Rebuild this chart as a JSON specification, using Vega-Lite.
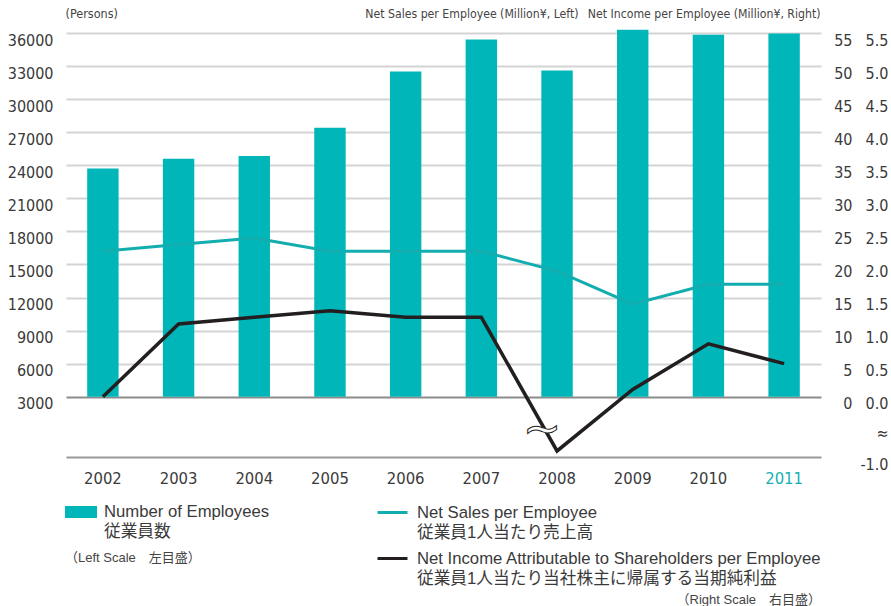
{
  "$schema": "https://vega.github.io/schema/vega-lite/v6.json",
  "width": 755,
  "height": 424,
  "autosize": {"type": "none"},
  "padding": {"left": 66, "top": 33, "right": 70, "bottom": 149},
  "background": "white",
  "config": {
    "view": {"stroke": null},
    "font": "Liberation Sans Narrow, DejaVu Sans Condensed, Roboto Condensed, Liberation Sans",
    "axis": {"labelFont": "Liberation Sans Narrow, DejaVu Sans Condensed, Roboto Condensed, Liberation Sans", "titleFont": "Liberation Sans Narrow, DejaVu Sans Condensed, Roboto Condensed, Liberation Sans"}
  },
  "data": {
    "values": [
      {"year": "2002", "employees": 23700, "sales": 22, "income": 0.0},
      {"year": "2003", "employees": 24600, "sales": 23, "income": 1.1},
      {"year": "2004", "employees": 24850, "sales": 24, "income": 1.2},
      {"year": "2005", "employees": 27400, "sales": 22, "income": 1.3},
      {"year": "2006", "employees": 32500, "sales": 22, "income": 1.2},
      {"year": "2007", "employees": 35400, "sales": 22, "income": 1.2},
      {"year": "2008", "employees": 32600, "sales": 19, "income": -0.9},
      {"year": "2009", "employees": 36300, "sales": 14, "income": 0.11},
      {"year": "2010", "employees": 35850, "sales": 17, "income": 0.8},
      {"year": "2011", "employees": 35950, "sales": 17, "income": 0.5}
    ]
  },
  "encoding": {
    "x": {
      "field": "year",
      "type": "ordinal",
      "scale": {"paddingInner": 0.585, "paddingOuter": 0.28},
      "axis": {
        "title": null,
        "labelAngle": 0,
        "labelFontSize": 16.5,
        "labelColor": {"condition": {"test": "datum.value == '2011'", "value": "#14b0b2"}, "value": "#3a3a3a"},
        "labelPadding": 13,
        "ticks": false,
        "domainColor": "#9a9a9a",
        "domainWidth": 2,
        "grid": false
      }
    }
  },
  "layer": [
    {
      "mark": {"type": "bar"},
      "encoding": {
        "y": {
          "field": "employees",
          "type": "quantitative",
          "scale": {"domain": [3000, 36000], "range": [363.7, 0], "nice": false, "zero": false},
          "axis": {
            "orient": "left",
            "values": [3000, 6000, 9000, 12000, 15000, 18000, 21000, 24000, 27000, 30000, 33000, 36000],
            "format": "d",
            "grid": true,
            "gridColor": {"condition": {"test": "datum.value == 3000", "value": "#8c8c8c"}, "value": "#d4d4d4"},
            "gridWidth": 2,
            "domain": false,
            "ticks": false,
            "tickSize": 0,
            "labelPadding": 13,
            "labelOffset": 7,
            "labelFontSize": 16,
            "labelColor": "#3a3a3a",
            "title": "(Persons)",
            "titleX": -1,
            "titleY": -20,
            "titleAngle": 0,
            "titleAlign": "left",
            "titleBaseline": "middle",
            "titleFontSize": 12.5,
            "titleFontWeight": "normal",
            "titleColor": "#444444"
          }
        },
        "y2": {"datum": 3000},
        "fill": {
          "datum": "Number of Employees",
          "scale": {"domain": ["Number of Employees"], "range": ["#00b6b8"]},
          "legend": {
            "orient": "none",
            "legendX": -1,
            "legendY": 463,
            "padding": 0,
            "direction": "vertical",
            "title": "（Left Scale　左目盛）",
            "titleOrient": "bottom",
            "titleAnchor": "start",
            "titlePadding": 11,
            "titleFont": "Liberation Sans, Noto Sans CJK JP",
            "titleFontSize": 13,
            "titleFontWeight": "normal",
            "titleColor": "#444444",
            "labelFont": "Liberation Sans, Noto Sans CJK JP",
            "labelFontSize": 16.7,
            "labelColor": "#3a3a3a",
            "labelLimit": 600,
            "labelOffset": 7,
            "labelExpr": "[datum.label, '従業員数']",
            "symbolType": "M-1,-0.375H1V0.375H-1Z",
            "symbolSize": 1024,
            "symbolStrokeWidth": 0,
            "encode": {"labels": {"update": {"lineHeight": {"value": 20}}}}
          }
        }
      }
    },
    {
      "mark": {"type": "line", "strokeWidth": 3},
      "encoding": {
        "y": {
          "field": "sales",
          "type": "quantitative",
          "scale": {"domain": [0, 55], "range": [363.7, 0], "nice": false, "zero": false},
          "axis": {
            "orient": "right",
            "values": [0, 5, 10, 15, 20, 25, 30, 35, 40, 45, 50, 55],
            "grid": false,
            "domain": false,
            "ticks": false,
            "tickSize": 0,
            "labelAlign": "right",
            "labelPadding": 31,
            "labelOffset": 7,
            "labelFontSize": 16,
            "labelColor": "#3a3a3a",
            "title": "Net Sales per Employee (Million¥, Left)",
            "titleX": -243,
            "titleY": -20,
            "titleAngle": 0,
            "titleAlign": "right",
            "titleBaseline": "middle",
            "titleFontSize": 12.2,
            "titleFontWeight": "normal",
            "titleColor": "#444444"
          }
        },
        "stroke": {
          "datum": "Net Sales per Employee",
          "scale": {"domain": ["Net Sales per Employee", "Net Income Attributable to Shareholders per Employee"], "range": ["#12adaf", "#231f20"]},
          "legend": {
            "orient": "none",
            "legendX": 310,
            "legendY": 463,
            "padding": 0,
            "direction": "vertical",
            "rowPadding": -4,
            "title": "（Right Scale　右目盛）",
            "titleOrient": "bottom",
            "titleAnchor": "end",
            "titlePadding": 7,
            "titleFont": "Liberation Sans, Noto Sans CJK JP",
            "titleFontSize": 13,
            "titleFontWeight": "normal",
            "titleColor": "#444444",
            "labelFont": "Liberation Sans, Noto Sans CJK JP",
            "labelFontSize": 16.7,
            "labelColor": "#3a3a3a",
            "labelLimit": 600,
            "labelOffset": 8,
            "labelExpr": "datum.label == 'Net Sales per Employee' ? [datum.label, '従業員1人当たり売上高'] : [datum.label, '従業員1人当たり当社株主に帰属する当期純利益']",
            "symbolType": "M-1,0H1",
            "symbolSize": 900,
            "symbolStrokeWidth": 3,
            "encode": {"labels": {"update": {"lineHeight": {"value": 20}}}}
          }
        }
      }
    },
    {
      "mark": {"type": "line", "strokeWidth": 3.5},
      "encoding": {
        "y": {
          "field": "income",
          "type": "quantitative",
          "scale": {"domain": [-1, 0, 5.5], "range": [424, 363.7, 0], "nice": false, "zero": false},
          "axis": {
            "orient": "right",
            "values": [-1, -0.5, 0, 0.5, 1, 1.5, 2, 2.5, 3, 3.5, 4, 4.5, 5, 5.5],
            "labelExpr": "datum.value == -0.5 ? '≈' : (datum.value == -1 ? '-1.0' : format(datum.value, '.1f'))",
            "grid": false,
            "domain": false,
            "ticks": false,
            "tickSize": 0,
            "labelAlign": "right",
            "labelPadding": 67,
            "labelOffset": 7,
            "labelFontSize": 16,
            "labelColor": "#3a3a3a",
            "title": "Net Income per Employee (Million¥, Right)",
            "titleX": -1,
            "titleY": -20,
            "titleAngle": 0,
            "titleAlign": "right",
            "titleBaseline": "middle",
            "titleFontSize": 12.2,
            "titleFontWeight": "normal",
            "titleColor": "#444444"
          }
        },
        "stroke": {
          "datum": "Net Income Attributable to Shareholders per Employee",
          "scale": {"domain": ["Net Sales per Employee", "Net Income Attributable to Shareholders per Employee"], "range": ["#12adaf", "#231f20"]}
        }
      }
    },
    {
      "transform": [{"filter": "datum.year == '2008'"}],
      "mark": {"type": "text", "text": "∼", "fontSize": 46, "dx": -15, "fill": "white", "stroke": "#231f20", "strokeWidth": 1, "font": "DejaVu Sans", "baseline": "middle"},
      "encoding": {
        "y": {
          "datum": -0.55,
          "type": "quantitative",
          "scale": {"domain": [-1, 0, 5.5], "range": [424, 363.7, 0], "nice": false, "zero": false},
          "axis": null
        }
      }
    }
  ],
  "resolve": {"scale": {"y": "independent"}}
}
